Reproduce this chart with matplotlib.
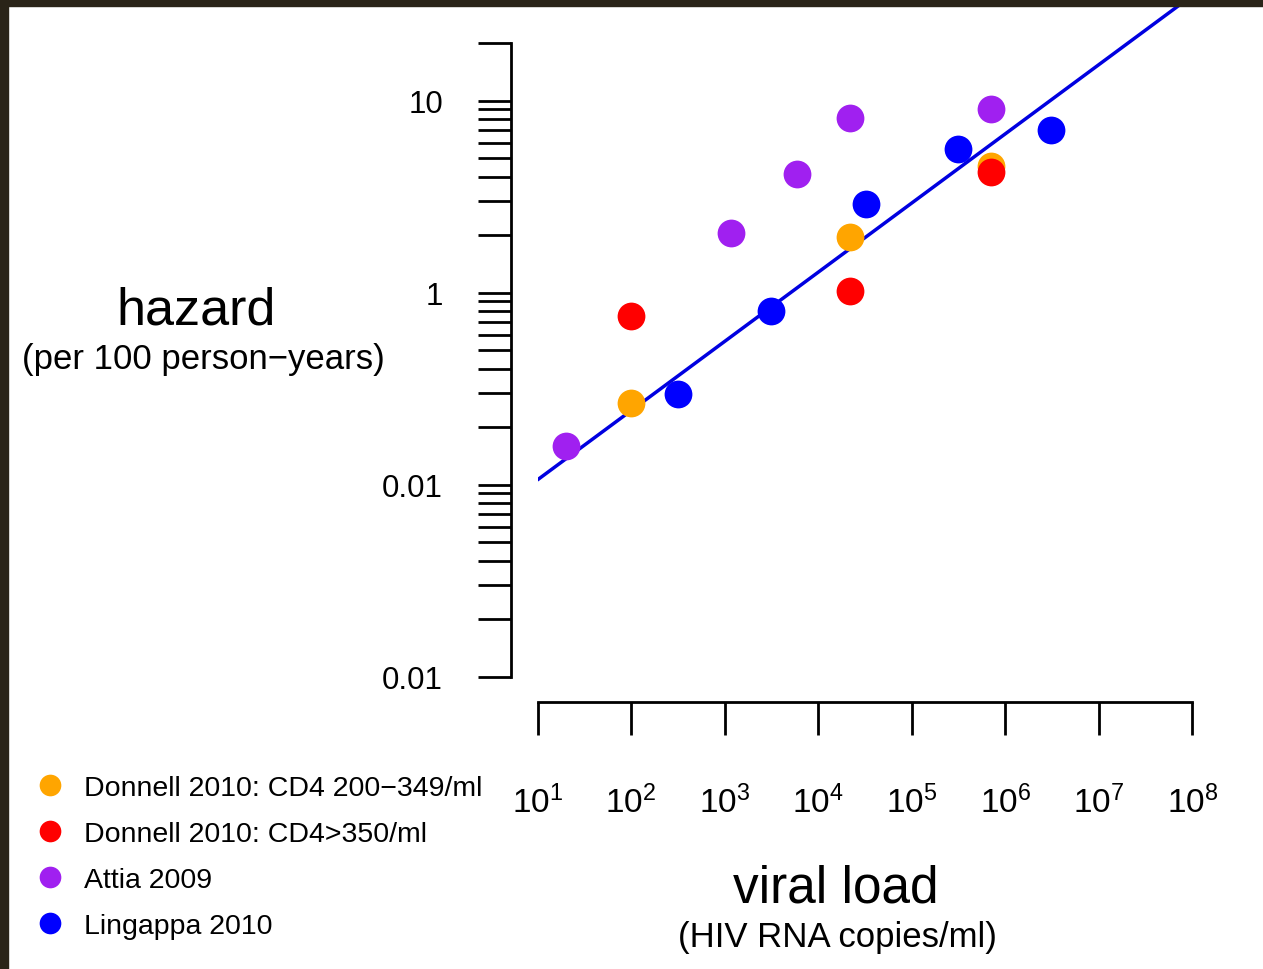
import numpy as np
import matplotlib
matplotlib.use("Agg")
import matplotlib.pyplot as plt
from matplotlib.patches import Rectangle

plt.rcParams['font.family'] = ['Liberation Sans', 'DejaVu Sans']
plt.rcParams['mathtext.fontset'] = 'custom'
plt.rcParams['mathtext.rm'] = 'Liberation Sans'
plt.rcParams['mathtext.it'] = 'Liberation Sans:italic'
plt.rcParams['mathtext.default'] = 'regular'

# data
donnell_lo_x = [100, 22000, 710000]
donnell_lo_y = [0.267, 1.95, 4.57]
donnell_hi_x = [100, 22000, 710000]
donnell_hi_y = [0.757, 1.02, 4.23]
attia_x = [20, 1180, 5900, 22000, 710000]
attia_y = [0.159, 2.05, 4.15, 8.13, 9.05]
lingappa_x = [316, 3150, 32500, 310000, 3.1e6]
lingappa_y = [0.296, 0.803, 2.90, 5.60, 7.0]

fit_x = [1e1, 1e8]
fit_y = [0.106, 35.3]

series_labels = ["Donnell 2010: CD4 200\u2212349/ml",
                 "Donnell 2010: CD4>350/ml",
                 "Attia 2009",
                 "Lingappa 2010"]
series_colors = ["#FFA500", "#FF0000", "#A020F0", "#0000FF"]

x_ticks = [1e1, 1e2, 1e3, 1e4, 1e5, 1e6, 1e7, 1e8]
x_ticklabels = [r"$10^{%d}$" % k for k in range(1, 9)]
y_ticks = [0.01, 0.1, 1, 10]
y_ticklabels = ["0.01", "0.01", "1", "10"]   # as printed on the original

W, H = 1263, 970
fig = plt.figure(figsize=(W / 100, H / 100), dpi=100)
fig.patch.set_facecolor("white")

ax = fig.add_axes([537.5 / W, (H - 677.7) / H, (1192.3 - 537.5) / W, (677.7 - 7) / H])
ax.set_xscale("log")
ax.set_yscale("log")
ax.set_xlim(1e1, 1e8)
ax.set_ylim(0.01, 10 ** (1 + (101.7 - 7) / 192.0))

# regression line first, points on top
ax.plot(fit_x, fit_y, color="#0000E0", lw=2.5, solid_capstyle="round", zorder=2)

xs = [donnell_lo_x, donnell_hi_x, attia_x, lingappa_x]
ys = [donnell_lo_y, donnell_hi_y, attia_y, lingappa_y]
handles = []
for x, y, c, lab in zip(xs, ys, series_colors, series_labels):
    h, = ax.plot(x, y, "o", color=c, ms=20, mec="none", label=lab, zorder=3)
    handles.append(h)

# R-style detached axes
for s in ["top", "right"]:
    ax.spines[s].set_visible(False)
ax.spines["left"].set_position(("outward", 19))
ax.spines["bottom"].set_position(("outward", 18))
ax.spines["left"].set_bounds(0.01, 20)
ax.spines["bottom"].set_bounds(1e1, 1e8)
for s in ["left", "bottom"]:
    ax.spines[s].set_linewidth(2.0)

ax.set_xticks(x_ticks)
ax.set_xticklabels(x_ticklabels)
ax.xaxis.set_minor_locator(matplotlib.ticker.NullLocator())
ax.tick_params(axis="x", which="major", length=24, width=2.0, pad=36, labelsize=24)

minor_y = [m * 10.0 ** e for e in (-2, -1, 0) for m in range(2, 10)] + [20]
ax.set_yticks(y_ticks)
ax.set_yticklabels(y_ticklabels)
ax.set_yticks(minor_y, minor=True)
ax.yaxis.set_minor_formatter(matplotlib.ticker.NullFormatter())
ax.tick_params(axis="y", which="both", length=24, width=2.0, pad=25, labelsize=22.5)

ax.patch.set_alpha(0)

# axis titles
fig.text(196 / W, 1 - 311 / H, "hazard", ha="center", va="center", fontsize=37.5)
fig.text(203 / W, 1 - 359 / H, "(per 100 person\u2212years)", ha="center", va="center", fontsize=25)
fig.text(836 / W, 1 - 889 / H, "viral load", ha="center", va="center", fontsize=37)
fig.text(837 / W, 1 - 938 / H, "(HIV RNA copies/ml)", ha="center", va="center", fontsize=25)

fig.legend(handles=handles, loc="upper left", bbox_to_anchor=(24 / W, 1 - 765 / H),
           frameon=False, fontsize=20.5, markerscale=0.78, handlelength=1.0,
           handletextpad=0.7, labelspacing=0.7, borderaxespad=0)

# dark frame on top and left edge
fig.patches.append(Rectangle((0, 1 - 7 / H), 1, 7 / H, transform=fig.transFigure,
                             color="#2a2418", zorder=10))
fig.patches.append(Rectangle((0, 0), 8 / W, 1, transform=fig.transFigure,
                             color="#2a2418", zorder=10))

fig.savefig("out.png", dpi=100)
